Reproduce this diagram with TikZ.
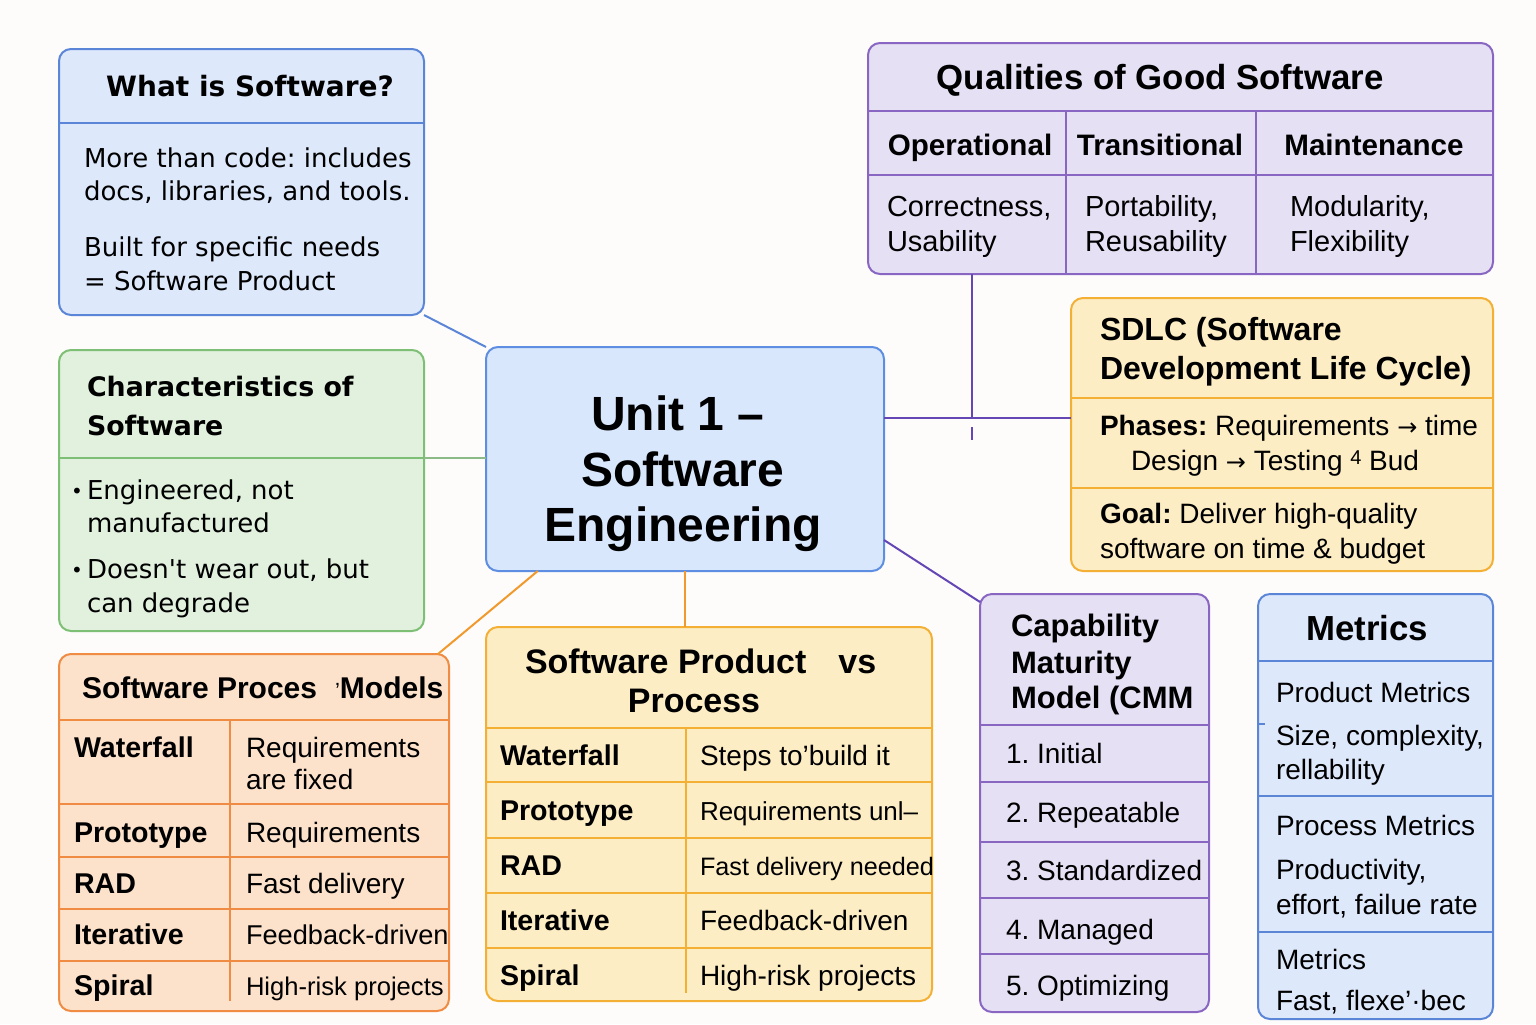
\documentclass[tikz,border=0pt]{standalone}
\usepackage{fontspec}
\setmainfont{Liberation Sans}
\newfontfamily\dvs{DejaVu Sans}
\usetikzlibrary{calc}
\frenchspacing

\definecolor{bg}{HTML}{FDFCFA}
\definecolor{bluefill}{HTML}{DDE8FB}
\definecolor{blueline}{HTML}{5B86D8}
\definecolor{greenfill}{HTML}{E1F1DE}
\definecolor{greenline}{HTML}{7DBF74}
\definecolor{unitfill}{HTML}{D8E7FC}
\definecolor{unitline}{HTML}{5E8EE2}
\definecolor{purplefill}{HTML}{E6E0F4}
\definecolor{purpleline}{HTML}{8866C2}
\definecolor{yellowfill}{HTML}{FDEDC5}
\definecolor{yellowline}{HTML}{F3B034}
\definecolor{peachfill}{HTML}{FDE2CB}
\definecolor{peachline}{HTML}{EF8B42}
\definecolor{linkpurple}{HTML}{6447B4}
\definecolor{linkorange}{HTML}{F2992E}
\definecolor{linkgreen}{HTML}{8DBB88}

\newcommand\fsz[1]{\fontsize{#1}{#1}\selectfont}

\begin{document}
\begin{tikzpicture}[x=0.5pt,y=-0.5pt,
  panel/.style={draw=#1line, fill=#1fill, rounded corners=6pt, line width=1pt,
                inner sep=0pt, outer sep=0pt, anchor=north west},
  rule/.style={draw=#1, line width=0.9pt},
  link/.style={draw=#1, line width=1pt},
  tx/.style={anchor=base west, inner sep=0pt, outer sep=0pt},
  txc/.style={anchor=base, inner sep=0pt, outer sep=0pt},
  body/.style={tx, font=\fsz{14}},
  cell/.style={tx, font=\bfseries\fsz{14.3}}]

\fill[bg] (0,0) rectangle (1536,1024);
\useasboundingbox (0,0) rectangle (1536,1024);

% ---------- panels ----------
\node[panel=blue,   minimum width=182.5pt, minimum height=133pt]   (what)  at (59,49)   {};
\node[panel=green,  minimum width=182.5pt, minimum height=140.5pt] (chars) at (59,350)  {};
\node[panel=unit,   minimum width=199pt,   minimum height=112pt]   (unit)  at (486,347) {};
\node[panel=purple, minimum width=312.5pt, minimum height=115.5pt] (qual)  at (868,43)  {};
\node[panel=yellow, minimum width=211pt,   minimum height=136.5pt] (sdlc)  at (1071,298) {};
\node[panel=peach,  minimum width=195pt,   minimum height=178.5pt] (spm)   at (59,654)  {};
\node[panel=yellow, minimum width=223pt,   minimum height=187pt]   (pvp)   at (486,627) {};
\node[panel=purple, minimum width=114.5pt, minimum height=209pt]   (cmm)   at (980,594) {};
\node[panel=blue,   minimum width=117.5pt, minimum height=212.5pt] (met)   at (1258,594) {};

% ---------- connectors ----------
\coordinate (charsdiv) at (424,458);
\coordinate (hub) at (972,418);
\draw[link=blueline] (what.south east) -- (unit.north west);
\draw[link=linkgreen] (charsdiv) -- (charsdiv -| unit.west);
\draw[link=linkorange] ($(unit.south west)!0.13!(unit.south east)$) -- ($(spm.north east)+(-11,0)$);
\draw[link=linkorange] (unit.south) -- (unit.south |- pvp.north);
\draw[link=linkpurple] (hub -| unit.east) -- (hub -| sdlc.west);
\draw[link=linkpurple] (qual.south -| hub) -- (hub);
\draw[link=linkpurple] ($(hub)+(0,9)$) -- ($(hub)+(0,22)$);
\draw[link=linkpurple] ($(unit.south east)+(0,-31)$) -- ($(cmm.north west)+(0,8)$);
\draw[link=linkpurple] ($(cmm.east)+(0,14)$) -- ($(cmm.east)+(0,14)$ -| met.west);
\draw[link=blueline] (1258,724) -- (1265,724);

% ---------- What is Software? ----------
\draw[rule=blueline] (59,123) -- (424,123);
\node[txc, font=\dvs\bfseries\fsz{14}] (whatT) at (250,96) {What is Software?};
\node[tx, font=\dvs\fsz{13}] (what1) at (84,167) {More than code: includes};
\node[tx, font=\dvs\fsz{13}] (what2) at (84,200) {docs, libraries, and tools.};
\node[tx, font=\dvs\fsz{13}] (what3) at (84,256) {Built for specific needs};
\node[tx, font=\dvs\fsz{13}] (what4) at (84,290) {= Software Product};

% ---------- Characteristics of Software ----------
\draw[rule=greenline] (59,458) -- (424,458);
\node[tx, font=\dvs\bfseries\fsz{13.4}] (charsT1) at (87,396) {Characteristics of};
\node[tx, font=\dvs\bfseries\fsz{13.4}] (charsT2) at (87,435) {Software};
\node[tx, font=\dvs\fsz{10}] (b1) at (71,498) {•};
\node[tx, font=\dvs\fsz{13}] (chars1) at (87,499) {Engineered, not};
\node[tx, font=\dvs\fsz{13}] (chars2) at (87,532) {manufactured};
\node[tx, font=\dvs\fsz{10}] (b2) at (71,577) {•};
\node[tx, font=\dvs\fsz{13}] (chars3) at (87,578) {Doesn't wear out, but};
\node[tx, font=\dvs\fsz{13}] (chars4) at (87,612) {can degrade};

% ---------- central topic ----------
\node[txc, font=\bfseries\fsz{24}] (unitA) at (678,430) {Unit 1 –};
\node[txc, font=\bfseries\fsz{24}] (unitB) at (683,486) {Software};
\node[txc, font=\bfseries\fsz{24}] (unitC) at (683,541) {Engineering};

% ---------- Qualities of Good Software ----------
\draw[rule=purpleline] (868,111) -- (1493,111);
\draw[rule=purpleline] (868,175) -- (1493,175);
\draw[rule=purpleline] (1066,111) -- (1066,274);
\draw[rule=purpleline] (1256,111) -- (1256,274);
\node[txc, font=\bfseries\fsz{17.4}] (qualT) at (1160,89) {Qualities of Good Software};
\node[txc, font=\bfseries\fsz{14.8}] (qh1) at (970,155) {Operational};
\node[txc, font=\bfseries\fsz{14.8}] (qh2) at (1160,155) {Transitional};
\node[txc, font=\bfseries\fsz{14.8}] (qh3) at (1374,155) {Maintenance};
\node[tx, font=\fsz{14.5}] (q1a) at (887,216) {Correctness,};
\node[tx, font=\fsz{14.5}] (q1b) at (887,251) {Usability};
\node[tx, font=\fsz{14.5}] (q2a) at (1085,216) {Portability,};
\node[tx, font=\fsz{14.5}] (q2b) at (1085,251) {Reusability};
\node[tx, font=\fsz{14.5}] (q3a) at (1290,216) {Modularity,};
\node[tx, font=\fsz{14.5}] (q3b) at (1290,251) {Flexibility};

% ---------- SDLC ----------
\draw[rule=yellowline] (1071,398) -- (1493,398);
\draw[rule=yellowline] (1071,488) -- (1493,488);
\node[tx, font=\bfseries\fsz{16}] (sdlcT1) at (1100,340) {SDLC (Software};
\node[tx, font=\bfseries\fsz{16}] (sdlcT2) at (1100,379) {Development Life Cycle)};
\node[body] (sdlc1) at (1100,435) {\textbf{Phases:} Requirements {\dvs\fsz{12}→} time};
\node[body] (sdlc2) at (1131,470) {Design {\dvs\fsz{12}→} Testing \raisebox{0.35ex}{\fsz{10}4} Bud};
\node[body] (sdlc3) at (1100,523) {\textbf{Goal:} Deliver high-quality};
\node[body] (sdlc4) at (1100,558) {software on time \& budget};

% ---------- Software Process Models ----------
\draw[rule=peachline] (59,720) -- (449,720);
\foreach \yy in {804,857,909,961} \draw[rule=peachline] (59,\yy) -- (449,\yy);
\draw[rule=peachline] (230,720) -- (230,1001);
\node[tx, font=\bfseries\fsz{15}] (spmT) at (82,698) {Software Proces\hspace{9pt}{\mdseries\fsz{11}’}Models};
\node[cell] (s1) at (74,757) {Waterfall};
\node[body] (s1r) at (246,757) {Requirements};
\node[body] (s1s) at (246,789) {are fixed};
\node[cell] (s2) at (74,842) {Prototype};
\node[body] (s2r) at (246,842) {Requirements};
\node[cell] (s3) at (74,893) {RAD};
\node[body] (s3r) at (246,893) {Fast delivery};
\node[cell] (s4) at (74,944) {Iterative};
\node[body, font=\fsz{13.6}] (s4r) at (246,944) {Feedback-driven};
\node[body, font=\fsz{12.8}] (s5r) at (246,995) {High-risk projects};
\node[cell] (s5) at (74,995) {Spiral};

% ---------- Software Product vs Process ----------
\draw[rule=yellowline] (486,728) -- (932,728);
\foreach \yy in {782,838,893,948} \draw[rule=yellowline] (486,\yy) -- (932,\yy);
\draw[rule=yellowline] (686,728) -- (686,993);
\node[tx, font=\bfseries\fsz{17}] (pvpT1) at (525,673) {Software Product\hspace{16pt}vs};
\node[txc, font=\bfseries\fsz{17}] (pvpT2) at (694,712) {Process};
\node[cell] (p1) at (500,765) {Waterfall};
\node[body] (p1r) at (700,765) {Steps to'build it};
\node[cell] (p2) at (500,820) {Prototype};
\node[body, font=\fsz{13}] (p2r) at (700,820) {Requirements unl–};
\node[cell] (p3) at (500,875) {RAD};
\node[body, font=\fsz{12.6}] (p3r) at (700,875) {Fast delivery needed};
\node[cell] (p4) at (500,930) {Iterative};
\node[body] (p4r) at (700,930) {Feedback-driven};
\node[cell] (p5) at (500,985) {Spiral};
\node[body] (p5r) at (700,985) {High-risk projects};

% ---------- Capability Maturity Model ----------
\draw[rule=purpleline] (980,725) -- (1209,725);
\foreach \yy in {782,842,898,954} \draw[rule=purpleline] (980,\yy) -- (1209,\yy);
\node[tx, font=\bfseries\fsz{15.5}] (cmmT1) at (1011,636) {Capability};
\node[tx, font=\bfseries\fsz{15.5}] (cmmT2) at (1011,673) {Maturity};
\node[tx, font=\bfseries\fsz{15.5}] (cmmT3) at (1011,708) {Model (CMM};
\node[body] (c1) at (1006,763) {1. Initial};
\node[body] (c2) at (1006,822) {2. Repeatable};
\node[body] (c3) at (1006,880) {3. Standardized};
\node[body] (c4) at (1006,939) {4. Managed};
\node[body] (c5) at (1006,995) {5. Optimizing};

% ---------- Metrics ----------
\draw[rule=blueline] (1258,661) -- (1493,661);
\draw[rule=blueline] (1258,796) -- (1493,796);
\draw[rule=blueline] (1258,932) -- (1493,932);
\node[txc, font=\bfseries\fsz{17.4}] (metT) at (1367,640) {Metrics};
\node[body] (m1) at (1276,702) {Product Metrics};
\node[body] (m2) at (1276,745) {Size, complexity,};
\node[body] (m3) at (1276,779) {rellability};
\node[body] (m4) at (1276,835) {Process Metrics};
\node[body] (m5) at (1276,879) {Productivity,};
\node[body] (m6) at (1276,914) {effort, failue rate};
\node[body] (m7) at (1276,969) {Metrics};
\node[body] (m8) at (1276,1010) {Fast, flexe’·bec};

\end{tikzpicture}
\end{document}
